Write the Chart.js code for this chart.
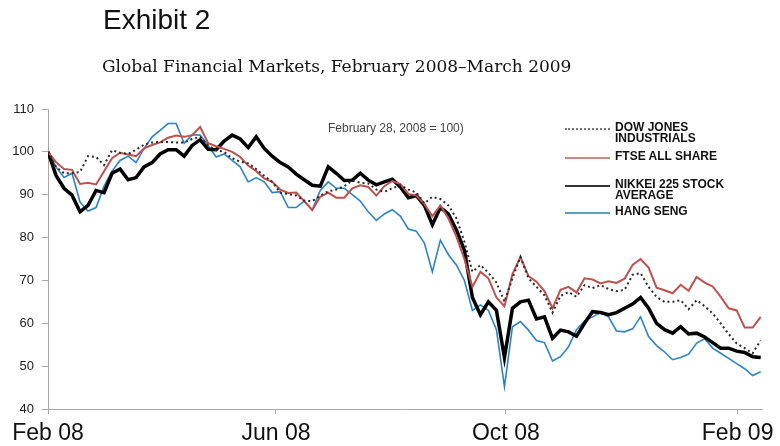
<!DOCTYPE html>
<html>
<head>
<meta charset="utf-8">
<script src="https://cdn.jsdelivr.net/npm/chart.js@4.4.0/dist/chart.umd.min.js"></script>
<style>
  body { margin: 0; background: #fff; }
  #wrap { position: relative; width: 780px; height: 446px; font-family: "Liberation Sans", Arial, sans-serif; }
  .txt { position: absolute; white-space: nowrap; color: #111; }
  #exhibit { left: 103px; top: 4px; font-size: 28px; }
  #subtitle { left: 102px; top: 56px; font-family: "DejaVu Serif", serif; font-size: 17px; }
  #note { left: 328px; top: 121px; font-size: 12px; color: #444; }
  .item { position: absolute; left: 565px; }
  .item span { position: absolute; left: 0; top: 6px; width: 45px; }
  .item div { position: absolute; left: 50px; top: 0; font-size: 12px; font-weight: bold; line-height: 11px; white-space: pre; color: #111; }
</style>
</head>
<body>
<div id="wrap">
  <canvas id="chart"></canvas>
  <div class="txt" id="exhibit">Exhibit 2</div>
  <div class="txt" id="subtitle">Global Financial Markets, February 2008–March 2009</div>
  <div class="txt" id="note">February 28, 2008 = 100)</div>
  <div id="legend"></div>
</div>
<script>
// sampled roughly every 4 days from Feb 2008 (x = days since Feb 1 2008)
let stepDays = 4.25;
let tickDays = [0, 121, 243, 366];
let tickLabels = ['Feb 08', 'Jun 08', 'Oct 08', 'Feb 09'];

let dow = [100, 96.5, 95, 95, 95.3, 99, 98.8, 96.9, 100.4, 99.8, 99.5, 100.5, 101.7, 102.2, 102.3, 102.3,
  102.2, 102.2, 103, 103.5, 101.5, 100.4, 100, 98.5, 97.7, 97.3, 96, 94.4, 93, 90.5, 90.1, 89.8,
  88.6, 88.5, 89.8, 90.8, 91.2, 92, 93.3, 92.8, 92.6, 91.2, 90.7, 91.5, 92.2, 91.2, 90.5, 88,
  89.5, 89, 87.5, 84.5, 79, 72, 73.6, 71.8, 69.5, 65, 70.5, 75.5, 70.5, 68.5, 66.5, 62.5, 66.4, 67.3,
  66.2, 68.9, 68.2, 68.9, 68, 67.5, 67.8, 71.3, 71.7, 68.5, 66.1, 65, 65, 65.4, 63.3, 65.4, 64, 62.3,
  60, 57.5, 55.3, 54.2, 53, 56];
let ftse = [100, 97.6, 96, 95.8, 92.5, 92.8, 92.4, 95.5, 98.5, 99.8, 99.4, 99, 100.8, 101.6, 102.2, 103.3,
  103.8, 103.5, 103.9, 105.8, 102, 101.3, 100.7, 100, 98.8, 96.8, 95.5, 93.8, 93, 91.2, 90.4, 90.5,
  88.5, 86.4, 89.5, 90.5, 89.3, 89.3, 91.5, 92.2, 91.8, 89.8, 92, 93.2, 92.5, 90.2, 89.8, 87.8,
  85, 87.5, 84.5, 80.2, 75, 68.5, 72, 70.5, 66, 64, 71.5, 75.5, 71, 69.7, 67.5, 63.5, 67.8, 68.5,
  67.2, 70.5, 70.2, 69.3, 69.8, 69.4, 70.4, 73.6, 75, 73, 68.3, 67.7, 67, 69, 67.6, 70.8, 69.5, 68.6,
  66.2, 63.5, 63, 59, 59, 61.5];
let nikkei = [100, 94.5, 91.5, 89.9, 86, 87.5, 91, 90.5, 95, 96, 93.5, 94, 96.5, 97.5, 99.5, 100.5,
  100.5, 99, 101.5, 102.8, 100.6, 100.5, 102.5, 103.9, 103, 101, 103.5, 100.8, 99, 97.5, 96.5, 94.8,
  93.5, 92.2, 92, 96.5, 95, 93.3, 93.4, 95, 93.4, 92.3, 93, 93.6, 91.8, 89.3, 89.8, 87.5,
  83, 87, 85.5, 81.8, 77, 66, 62, 65, 63, 52, 63.5, 65, 65.4, 61, 61.5, 56.5, 58.4, 58,
  57, 60, 62.7, 62.5, 62, 62.5, 63.5, 64.5, 66, 63.5, 60, 58.5, 57.7, 59.2, 57.5, 57.7, 56.8, 55.5,
  54.2, 54.2, 53.5, 53.2, 52.2, 52];
let hangSeng = [100, 96.5, 94, 95, 88.3, 86.2, 87, 92, 95.5, 98, 99, 97.5, 100.8, 103.5, 105, 106.6,
  106.6, 102, 104, 103.9, 101.5, 98.8, 99.5, 98, 96.5, 93, 94, 93, 90.5, 90.7, 87, 87,
  88.5, 86.5, 91, 93, 91.5, 91.5, 90, 88.5, 86, 84, 85.5, 86.5, 85, 82, 81.5, 78.7,
  72, 79.4, 76, 73.6, 70, 63, 64.3, 63, 58.5, 45.2, 59.2, 60.4, 58.4, 56, 55.5, 51.2, 52.2, 54.5,
  58.5, 60.5, 61.5, 62.5, 61.5, 58.2, 58, 58.7, 61.5, 56.9, 54.8, 53.3, 51.5, 52, 52.8, 55.4, 56.4, 54.2,
  53, 51.8, 50.6, 49.4, 47.8, 48.7];

function toPoints(values) {
    return values.map((v, i) => ({ x: i * stepDays, y: v }));
}

let ctx = document.getElementById('chart').getContext('2d');
let chart = new Chart(ctx, {
    type: 'line',
    data: {
        datasets: [{
            label: 'DOW JONES\nINDUSTRIALS',
            data: toPoints(dow),
            borderColor: '#2a2a2a',
            borderWidth: 2,
            borderDash: [2, 3],
            legendStyle: '2px dotted #777'
        }, {
            label: 'FTSE ALL SHARE',
            data: toPoints(ftse),
            borderColor: '#c0504d',
            borderWidth: 2,
            legendStyle: '2px solid #c98a87'
        }, {
            label: 'NIKKEI 225 STOCK\nAVERAGE',
            data: toPoints(nikkei),
            borderColor: '#000',
            borderWidth: 3.5,
            legendStyle: '2px solid #333'
        }, {
            label: 'HANG SENG',
            data: toPoints(hangSeng),
            borderColor: '#2b84c6',
            borderWidth: 1.6,
            legendStyle: '2px solid #5a9ec4'
        }]
    },
    options: {
        responsive: true,
        maintainAspectRatio: false,
        animation: false,
        elements: { point: { radius: 0 }, line: { tension: 0 } },
        layout: { padding: { top: 109, right: 17, left: 0, bottom: 0 } },
        plugins: { legend: { display: false }, tooltip: { enabled: false } },
        scales: {
            x: {
                type: 'linear',
                min: 0,
                max: 379,
                afterBuildTicks: (scale) => { scale.ticks = tickDays.map(v => ({ value: v })); },
                afterFit: (scale) => { scale.height = 37; },
                ticks: {
                    autoSkip: false,
                    maxRotation: 0,
                    padding: 6,
                    color: '#111',
                    font: { family: 'Liberation Sans', size: 23 },
                    callback: (value, index) => tickLabels[index]
                },
                grid: { drawOnChartArea: false, color: '#aaa', tickLength: 5 },
                border: { color: '#aaa' }
            },
            y: {
                min: 40,
                max: 110,
                afterFit: (scale) => { scale.width = 48; },
                ticks: {
                    stepSize: 10,
                    padding: 8,
                    color: '#222',
                    font: { family: 'Liberation Sans', size: 13 }
                },
                grid: { drawOnChartArea: false, color: '#aaa', tickLength: 6 },
                border: { color: '#aaa' }
            }
        }
    }
});

// legend rows (line sample + label), placed at the right of the plot
let legendTops = [122, 151, 179, 206];
let legend = document.getElementById('legend');
chart.data.datasets.forEach((ds, i) => {
    let item = document.createElement('div');
    item.className = 'item';
    item.style.top = legendTops[i] + 'px';
    item.innerHTML = '<span style="border-top:' + ds.legendStyle + '"></span><div></div>';
    item.querySelector('div').textContent = ds.label;
    legend.appendChild(item);
});
</script>
</body>
</html>
